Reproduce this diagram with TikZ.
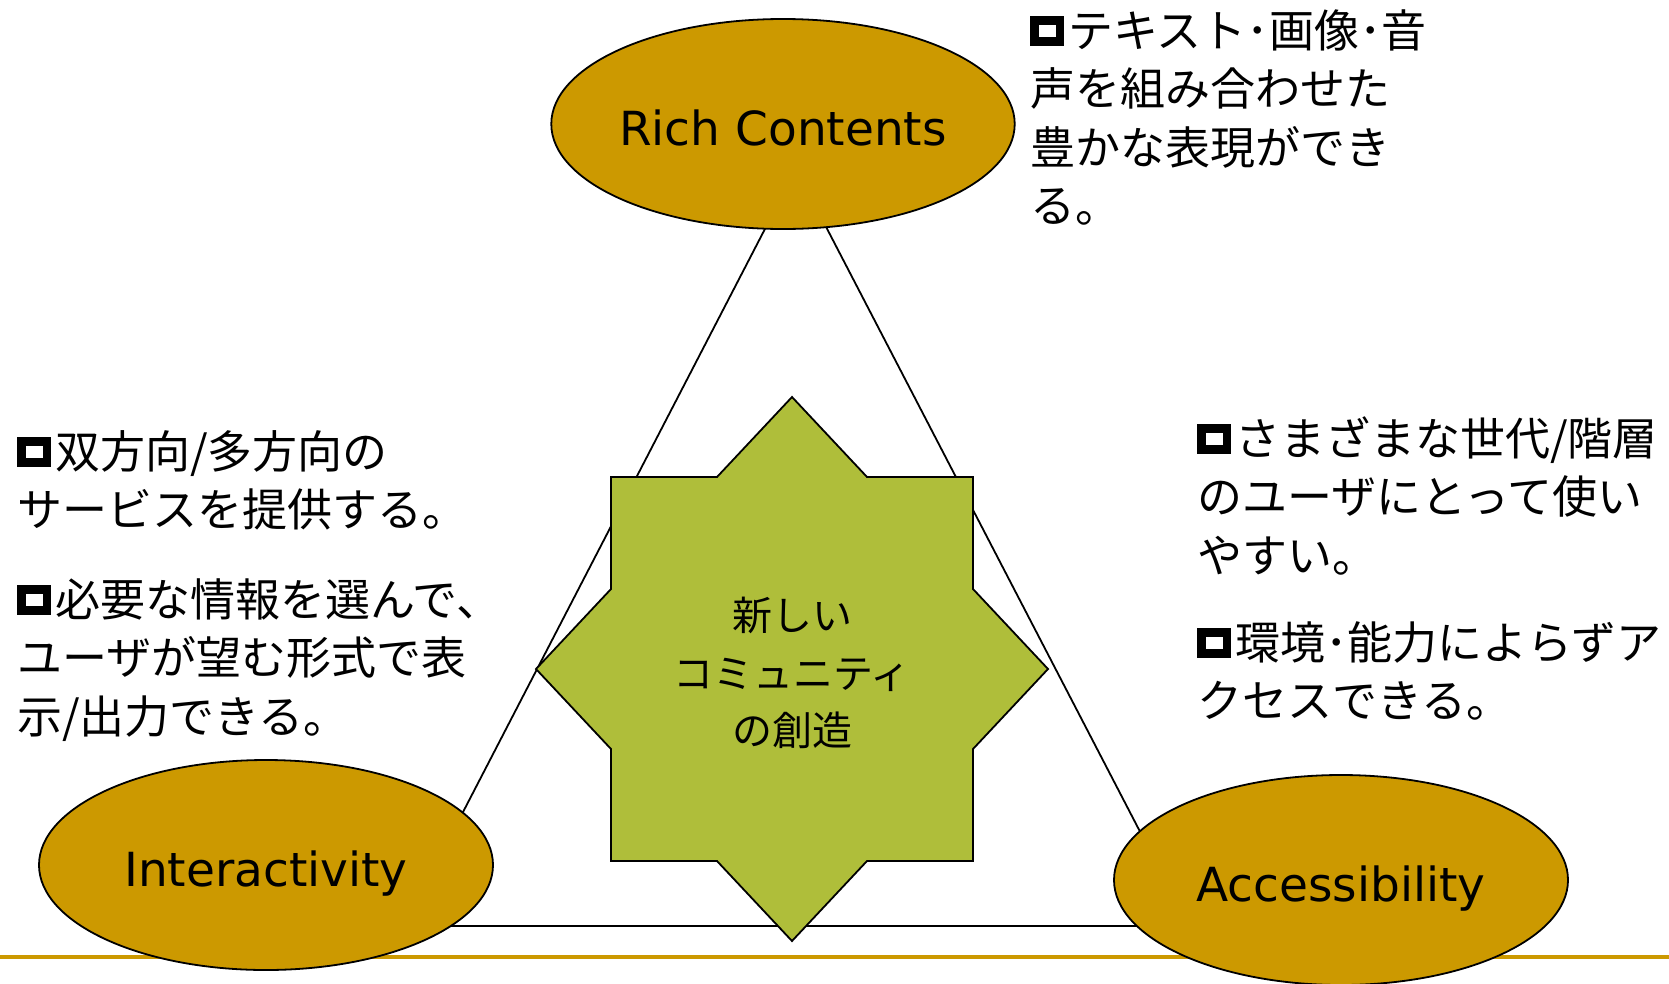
\documentclass[tikz,border=0pt]{standalone}
\usepackage{fontspec}
\setmainfont{DejaVu Sans}
\newfontfamily\jpfont{Noto Sans CJK JP}
\usetikzlibrary{shapes.geometric}
\definecolor{goldfill}{RGB}{204,153,0}
\definecolor{starolive}{RGB}{175,190,58}
\newcommand\bul{\raisebox{1pt}{\rlap{\rule{34pt}{30pt}}\hspace{8.5pt}\raisebox{9pt}{\textcolor{white}{\rule{17pt}{12pt}}}\hspace{8.5pt}}\hspace{4pt}}
\begin{document}
\begin{tikzpicture}[x=1pt,y=-1pt,
  ell/.style={ellipse, draw=black, line width=1.8pt, fill=goldfill,
    minimum width=454pt, minimum height=210pt, inner sep=0pt,
    text height=42pt, text depth=0pt,
    font=\fontsize{47}{56}\selectfont},
  txt/.style={anchor=north west, inner sep=0pt, align=left,
    font=\jpfont\fontsize{45}{58.5}\selectfont},
  tri/.style={draw=black, line width=1.8pt},
  baseline/.style={draw=goldfill, line width=3.5pt},
  starshape/.style={fill=starolive, draw=black, line width=1.8pt}]
\useasboundingbox (0,0) rectangle (1669,983);
\fill[white] (0,0) rectangle (1669,983);
% slide rule
\coordinate (gl) at (0,957);
\coordinate (gr) at (1669,957);
\draw[baseline] (gl) -- (gr);
% triangle
\coordinate (t1) at (796,169);
\coordinate (t2) at (404,926);
\coordinate (t3) at (1189,926);
\draw[tri] (t1) -- (t2) -- (t3) -- cycle;
% ellipses
\node[ell] (rc) at (783,124) {Rich Contents};
\node[ell] (ia) at (266,865) {Interactivity};
\node[ell] (ac) at (1341,880) {Accessibility};
% star
\begin{scope}[shift={(792,669)}]
\draw[starshape] (0,-272) -- (75,-192) -- (181,-192) -- (181,-80) -- (256,0)
  -- (181,80) -- (181,192) -- (75,192) -- (0,272) -- (-75,192) -- (-181,192)
  -- (-181,80) -- (-256,0) -- (-181,-80) -- (-181,-192) -- (-75,-192) -- cycle;
\end{scope}
\node[font=\jpfont\fontsize{40}{57.5}\selectfont, align=center, inner sep=0pt] (star) at (792,673) {新しい\\コミュニティ\\の創造};
% texts
\node[txt] (tr) at (1030,9) {\bul テキスト･画像･音\\声を組み合わせた\\豊かな表現ができ\\る。};
\node[txt] (l1) at (17,430) {\bul 双方向/多方向の\\サービスを提供する。};
\node[txt] (l2) at (17,578) {\bul 必要な情報を選んで、\\ユーザが望む形式で表\\示/出力できる。};
\node[txt] (r1) at (1197,416) {\bul さまざまな世代/階層\\のユーザにとって使い\\やすい。};
\node[txt] (r2) at (1197,621) {\bul 環境･能力によらずア\\クセスできる。};
\end{tikzpicture}
\end{document}
